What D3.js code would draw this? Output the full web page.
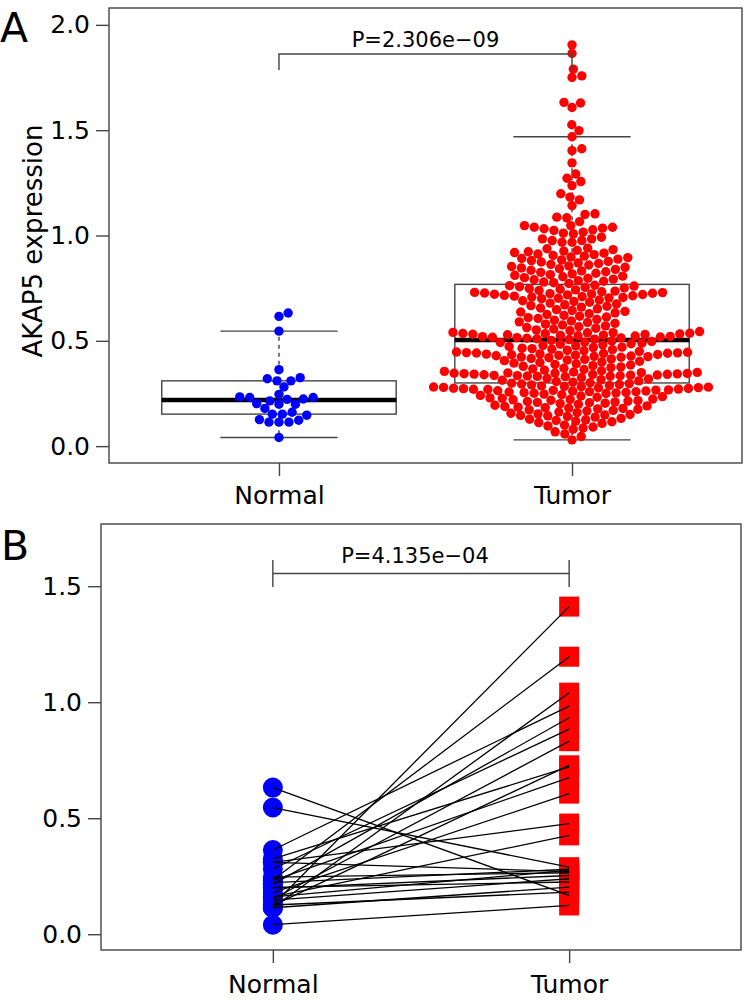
<!DOCTYPE html>
<html><head><meta charset="utf-8">
<script src="https://cdn.jsdelivr.net/npm/d3@7"></script>
<style>body{margin:0;background:#fff} svg{display:block} text{font-family:"DejaVu Sans",sans-serif}</style>
</head><body><svg id="c" width="744" height="1000"></svg>
<script>
// ---------- data ----------
const groups = ["Normal", "Tumor"];
const yTicksA = [0, 0.5, 1, 1.5, 2];
const yTicksB = [0, 0.5, 1, 1.5];
const yTitleA = "AKAP5 expression";
const pLabelA = "P=2.306e\u221209";
const pLabelB = "P=4.135e\u221204";

const normalA = [0.041, 0.114, 0.114, 0.114, 0.123, 0.126, 0.147, 0.152, 0.152, 0.161,
  0.179, 0.199, 0.199, 0.202, 0.215, 0.222, 0.224, 0.231, 0.231, 0.234,
  0.246, 0.281, 0.310, 0.310, 0.320, 0.325, 0.363, 0.546, 0.616, 0.632];

const tumorA = [
  0.030,
  0.046, 0.058, 0.068,
  0.080, 0.086, 0.091, 0.096, 0.100,
  0.108, 0.112, 0.116, 0.119, 0.122, 0.125, 0.128, 0.132,
  0.138, 0.141, 0.144, 0.146, 0.148, 0.150, 0.153, 0.156, 0.159, 0.162,
  0.167, 0.170, 0.172, 0.175, 0.177, 0.179, 0.181, 0.183, 0.185, 0.188, 0.191, 0.194,
  0.199, 0.202, 0.204, 0.206, 0.208, 0.210, 0.212, 0.214, 0.216, 0.218, 0.220, 0.222, 0.224, 0.227,
  0.229, 0.232, 0.235, 0.238, 0.241, 0.244, 0.247,
  0.250, 0.251, 0.253, 0.254, 0.255, 0.257, 0.258, 0.259, 0.261, 0.262, 0.263, 0.265, 0.266, 0.267,
  0.269, 0.270, 0.271, 0.273, 0.274, 0.275, 0.277, 0.278, 0.279, 0.280, 0.281, 0.282, 0.283,
  0.286, 0.288, 0.291, 0.293, 0.295, 0.297, 0.299,
  0.301, 0.304, 0.307, 0.310, 0.313, 0.316, 0.319, 0.322, 0.325,
  0.330, 0.331, 0.332, 0.333, 0.334, 0.335, 0.336, 0.337, 0.338, 0.339, 0.340,
  0.341, 0.342, 0.343, 0.344, 0.345, 0.346, 0.347, 0.348, 0.349, 0.350, 0.352,
  0.355, 0.358, 0.361, 0.364, 0.367, 0.370, 0.373, 0.376, 0.379, 0.382, 0.385,
  0.388, 0.391, 0.394, 0.397, 0.400, 0.403, 0.406, 0.409, 0.412, 0.414, 0.416,
  0.420, 0.422, 0.423, 0.425, 0.426, 0.428, 0.429, 0.431, 0.432, 0.434,
  0.435, 0.437, 0.438, 0.440, 0.441, 0.442, 0.443, 0.444, 0.446, 0.447,
  0.450, 0.453, 0.455, 0.458, 0.460, 0.463, 0.465, 0.468, 0.470, 0.473, 0.476,
  0.478, 0.481, 0.484, 0.486, 0.489, 0.492, 0.494, 0.497, 0.499, 0.502,
  0.506, 0.508,
  0.510, 0.512, 0.514, 0.515, 0.517, 0.518, 0.520, 0.521, 0.523, 0.524, 0.526,
  0.527, 0.529, 0.530, 0.531, 0.533, 0.534, 0.535, 0.536, 0.538, 0.539, 0.540,
  0.544, 0.548, 0.552, 0.556, 0.560, 0.563, 0.567, 0.571, 0.575, 0.579, 0.583, 0.587, 0.590, 0.594, 0.598, 0.602, 0.606, 0.610, 0.613, 0.617,
  0.621, 0.625, 0.629, 0.633, 0.637, 0.640, 0.644, 0.648, 0.652, 0.656, 0.660, 0.664, 0.667, 0.671, 0.675, 0.679, 0.683, 0.687, 0.690, 0.694,
  0.700, 0.702, 0.704, 0.706, 0.708, 0.710, 0.712, 0.714, 0.716,
  0.718, 0.720, 0.721, 0.723, 0.724, 0.726, 0.727, 0.729, 0.730,
  0.733, 0.736, 0.739, 0.742, 0.745, 0.748, 0.751, 0.754, 0.757, 0.760, 0.762, 0.764,
  0.772, 0.776, 0.779, 0.783, 0.786, 0.790, 0.793, 0.797, 0.800, 0.804, 0.807, 0.811, 0.814, 0.818, 0.821, 0.825, 0.828,
  0.832, 0.835, 0.839, 0.842, 0.846, 0.849, 0.853, 0.856, 0.860, 0.863, 0.867, 0.870, 0.874, 0.877, 0.881, 0.884,
  0.888, 0.891, 0.895, 0.898, 0.902, 0.905, 0.909, 0.912, 0.916, 0.919, 0.923, 0.926, 0.930, 0.933, 0.937, 0.940,
  0.968, 0.968, 0.976, 0.976, 0.984, 0.984, 0.992, 1.008, 1.011, 1.016, 1.024, 1.027, 1.032, 1.035, 1.039, 1.039, 1.047, 1.047, 1.066, 1.084, 1.087, 1.100,
  1.103, 1.142, 1.169, 1.182, 1.198, 1.237, 1.256, 1.272, 1.292, 1.345, 1.403, 1.412, 1.469, 1.498,
  1.526, 1.608, 1.629, 1.632, 1.750, 1.758, 1.790, 1.864, 1.905];

const pairedNormal = [0.632, 0.546, 0.363, 0.325, 0.310, 0.310, 0.281, 0.246, 0.234, 0.231,
  0.222, 0.215, 0.202, 0.199, 0.179, 0.161, 0.152, 0.147, 0.126, 0.123,
  0.114, 0.114, 0.126, 0.041, 0.161];
const pairedTumor = [0.167, 0.289, 0.983, 0.721, 0.477, 0.270, 0.884, 0.265, 1.196, 0.675,
  0.280, 0.933, 0.225, 0.253, 0.606, 0.426, 0.832, 0.239, 1.412, 0.728,
  1.041, 0.203, 0.181, 0.124, 0.275];

// ---------- helpers ----------
const svg = d3.select("#c");
const FRAME = "#444";
const FONT = 25;

function fivenum(arr) {
  const s = arr.slice().sort((a, b) => a - b), n = s.length;
  const n4 = Math.floor((n + 3) / 2) / 2;
  return [1, n4, (n + 1) / 2, n + 1 - n4, n].map(i => 0.5 * (s[Math.floor(i) - 1] + s[Math.ceil(i) - 1]));
}
function boxStats(arr) {
  const f = fivenum(arr), iqr = f[3] - f[1];
  const hi = d3.max(arr.filter(v => v <= f[3] + 1.5 * iqr));
  const lo = d3.min(arr.filter(v => v >= f[1] - 1.5 * iqr));
  return {q1: f[1], med: f[2], q3: f[3], lo, hi};
}
// beeswarm "swarm" placement (ascending priority), elliptical spacing dx by dy
function swarm(values, y, dx, dy) {
  const pts = values.map(v => ({v, y: y(v)})).sort((a, b) => b.y - a.y);
  const placed = [];
  const ok = (q, c, py) => ((q.x - c) / dx) ** 2 + ((q.y - py) / dy) ** 2 >= 1 - 1e-6;
  for (const p of pts) {
    const near = placed.filter(q => Math.abs(q.y - p.y) < dy);
    const cands = [0];
    for (const q of near) {
      const off = dx * Math.sqrt(1 - ((q.y - p.y) / dy) ** 2);
      cands.push(q.x + off, q.x - off);
    }
    const order = cands.map((c, i) => ({c, i})).sort((a, b) => (Math.abs(a.c) - Math.abs(b.c)) || (a.i - b.i));
    for (const {c} of order) {
      if (near.every(q => ok(q, c, p.y))) { p.x = c; break; }
    }
    placed.push(p);
  }
  return placed;
}
function styleAxis(g) {
  g.select(".domain").remove();
  g.selectAll(".tick line").attr("stroke", FRAME).attr("stroke-width", 1.4);
  g.selectAll("text").attr("font-size", FONT).attr("font-family", '"DejaVu Sans",sans-serif').attr("fill", "#000");
  g.attr("font-size", null).attr("font-family", null);
}

// ---------- Panel A ----------
const A = {l: 109, r: 742, t: 8, b: 463};
const xA = d3.scaleLinear().domain([0.42, 2.58]).range([A.l, A.r]);
const yA = d3.scaleLinear().domain([-0.08, 2.08]).range([A.b, A.t]);
const gA = svg.append("g");

gA.append("g").attr("transform", `translate(${A.l},0)`)
  .call(d3.axisLeft(yA).tickValues(yTicksA).tickFormat(d3.format(".1f")).tickSize(13).tickPadding(6))
  .call(styleAxis);
gA.append("g").attr("transform", `translate(0,${A.b})`)
  .call(d3.axisBottom(xA).tickValues([1, 2]).tickFormat(i => groups[i - 1]).tickSize(13).tickPadding(10))
  .call(styleAxis);
gA.append("text").attr("transform", `translate(42,241) rotate(-90)`).attr("text-anchor", "middle")
  .attr("font-size", 26).text(yTitleA);
gA.append("text").attr("x", 0).attr("y", 42).attr("font-size", 41).text("A");

const boxW = xA(1.4) - xA(1), capW = xA(1.2) - xA(1);
[normalA, tumorA].forEach((arr, gi) => {
  const s = boxStats(arr), cx = xA(gi + 1);
  const g = gA.append("g");
  g.append("line").attr("x1", cx).attr("x2", cx).attr("y1", yA(s.q3)).attr("y2", yA(s.hi))
    .attr("stroke", FRAME).attr("stroke-width", 1.4).attr("stroke-dasharray", "4,4");
  g.append("line").attr("x1", cx).attr("x2", cx).attr("y1", yA(s.q1)).attr("y2", yA(s.lo))
    .attr("stroke", FRAME).attr("stroke-width", 1.4).attr("stroke-dasharray", "4,4");
  [s.hi, s.lo].forEach(v => g.append("line").attr("x1", cx - capW).attr("x2", cx + capW)
    .attr("y1", yA(v)).attr("y2", yA(v)).attr("stroke", FRAME).attr("stroke-width", 1.4));
  g.append("rect").attr("x", cx - boxW).attr("width", 2 * boxW).attr("y", yA(s.q3)).attr("height", yA(s.q1) - yA(s.q3))
    .attr("fill", "none").attr("stroke", FRAME).attr("stroke-width", 1.4);
  g.append("line").attr("x1", cx - boxW).attr("x2", cx + boxW).attr("y1", yA(s.med)).attr("y2", yA(s.med))
    .attr("stroke", "#000").attr("stroke-width", 4.5);
  const pts = swarm(arr, yA, 10, 8.5);
  g.selectAll("circle").data(pts).join("circle")
    .attr("cx", p => cx + p.x).attr("cy", p => p.y).attr("r", 4.7)
    .attr("fill", gi === 0 ? "#0000FF" : "#FF0000");
});
gA.append("rect").attr("x", A.l).attr("y", A.t).attr("width", A.r - A.l).attr("height", A.b - A.t)
  .attr("fill", "none").attr("stroke", FRAME).attr("stroke-width", 1.4);
gA.append("path").attr("d", `M${xA(1)},70V54H${xA(2)}V70`).attr("fill", "none").attr("stroke", FRAME).attr("stroke-width", 1.4);
gA.append("text").attr("x", xA(1.5)).attr("y", 46.5).attr("text-anchor", "middle").attr("font-size", 21).text(pLabelA);

// ---------- Panel B ----------
const B = {l: 101, r: 741, t: 524, b: 950};
const xB = d3.scaleLinear().domain([0.42, 2.58]).range([B.l, B.r]);
const yB = d3.scaleLinear().domain([-0.068, 1.768]).range([B.b, B.t]);
const gB = svg.append("g");
gB.append("g").attr("transform", `translate(${B.l},0)`)
  .call(d3.axisLeft(yB).tickValues(yTicksB).tickFormat(d3.format(".1f")).tickSize(13).tickPadding(6))
  .call(styleAxis);
gB.append("g").attr("transform", `translate(0,${B.b})`)
  .call(d3.axisBottom(xB).tickValues([1, 2]).tickFormat(i => groups[i - 1]).tickSize(13).tickPadding(12))
  .call(styleAxis);
gB.append("text").attr("x", 1).attr("y", 560).attr("font-size", 41).text("B");

gB.selectAll("circle.n").data(pairedNormal).join("circle").attr("class", "n")
  .attr("cx", xB(1)).attr("cy", d => yB(d)).attr("r", 10).attr("fill", "#0000FF");
gB.selectAll("rect.t").data(pairedTumor).join("rect").attr("class", "t")
  .attr("x", xB(2) - 10).attr("y", d => yB(d) - 10).attr("width", 20).attr("height", 20).attr("fill", "#FF0000");
gB.selectAll("line.pair").data(pairedNormal.map((n, i) => [n, pairedTumor[i]])).join("line").attr("class", "pair")
  .attr("x1", xB(1)).attr("y1", d => yB(d[0])).attr("x2", xB(2)).attr("y2", d => yB(d[1]))
  .attr("stroke", "#000").attr("stroke-width", 1.3);

gB.append("rect").attr("x", B.l).attr("y", B.t).attr("width", B.r - B.l).attr("height", B.b - B.t)
  .attr("fill", "none").attr("stroke", FRAME).attr("stroke-width", 1.4);
gB.append("path").attr("d", `M${xB(1)},560V587M${xB(1)},573.5H${xB(2)}M${xB(2)},560V587`)
  .attr("fill", "none").attr("stroke", FRAME).attr("stroke-width", 1.4);
gB.append("text").attr("x", xB(1.5) - 6).attr("y", 563).attr("text-anchor", "middle").attr("font-size", 21).text(pLabelB);
</script>
</body></html>
